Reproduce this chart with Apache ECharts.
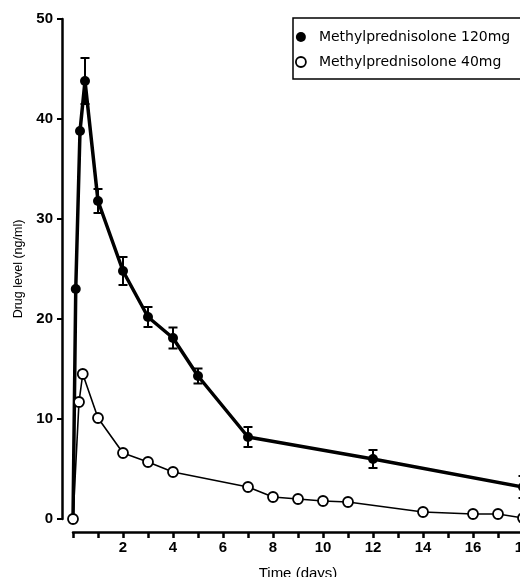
<!DOCTYPE html>
<html>
<head>
<meta charset="utf-8">
<script src="https://cdn.jsdelivr.net/npm/echarts@6/dist/echarts.min.js"></script>
<style>
  html, body { margin: 0; padding: 0; background: #fff; }
  #chart { width: 520px; height: 577px; }
</style>
</head>
<body>
<div id="chart"></div>
<script>
// 时间 (days) 与药物浓度 (ng/ml)
const time120 = [0, 0.11, 0.28, 0.48, 1, 2, 3, 4, 5, 7, 12, 18];
const level120 = [0, 23.0, 38.8, 43.8, 31.8, 24.8, 20.2, 18.1, 14.3, 8.2, 6.0, 3.2];
const sem120 = [0, 0, 0, 2.3, 1.2, 1.4, 1.0, 1.05, 0.75, 1.0, 0.9, 1.1];

const time40 = [0, 0.24, 0.39, 1, 2, 3, 4, 7, 8, 9, 10, 11, 14, 16, 17, 18];
const level40 = [0, 11.7, 14.5, 10.1, 6.6, 5.7, 4.7, 3.2, 2.2, 2.0, 1.8, 1.7, 0.7, 0.5, 0.5, 0.1];

const yTicks = [0, 10, 20, 30, 40, 50];
const xLabelled = [2, 4, 6, 8, 10, 12, 14, 16, 18];

const name120 = "Methylprednisolone 120mg";
const name40 = "Methylprednisolone 40mg";

const font = "Liberation Sans";

let errData = [];
time120.forEach((t, k) => {
  if (sem120[k] > 0) errData.push([t, level120[k] - sem120[k], level120[k] + sem120[k]]);
});

let myChart = echarts.init(document.getElementById("chart"));
let option = {
  backgroundColor: "#fff",
  animation: false,
  grid: {  // 数据区, 坐标轴用 offset 挪开
    left: 73,
    top: 19,
    width: 450,
    height: 500,
    outerBoundsMode: "none",
    containLabel: false,
  },
  legend: {
    orient: "vertical",
    left: 293,
    top: 18,
    padding: [11, 30, 9, 2],
    itemGap: 9,
    itemWidth: 16,
    itemHeight: 10,
    borderColor: "#000",
    borderWidth: 1.5,
    textStyle: {
      fontFamily: "DejaVu Sans",
      fontSize: 14,
      color: "#000",
      lineHeight: 16,
      padding: [0, 0, 0, 5],
    },
    data: [
      { name: name120, icon: "circle", itemStyle: { color: "#000" } },
      { name: name40, icon: "circle", itemStyle: { color: "#fff", borderColor: "#000", borderWidth: 1.8 } },
    ],
  },
  xAxis: {
    type: "value",
    min: 0,
    max: 18,
    interval: 1,
    offset: 13,
    name: "Time (days)",
    nameLocation: "middle",
    nameGap: 34,
    nameTextStyle: { fontFamily: font, fontSize: 15, color: "#000" },
    axisLine: { show: true, onZero: false, lineStyle: { color: "#000", width: 2.5 } },
    axisTick: { show: true, inside: false, length: 6, lineStyle: { color: "#000", width: 2.5 } },
    axisLabel: {
      fontFamily: font,
      fontWeight: "bold",
      fontSize: 15,
      color: "#000",
      margin: 8,
      formatter: (v) => (xLabelled.indexOf(v) >= 0 ? String(v) : ""),
    },
    splitLine: { show: false },
  },
  yAxis: {
    type: "value",
    min: 0,
    max: 50,
    interval: 10,
    offset: 11,
    name: "Drug level (ng/ml)",
    nameLocation: "middle",
    nameGap: 35,
    nameTextStyle: { fontFamily: font, fontSize: 12.5, color: "#000" },
    axisLine: { show: true, onZero: false, lineStyle: { color: "#000", width: 2.5 } },
    axisTick: { show: true, inside: false, length: 5, lineStyle: { color: "#000", width: 2 } },
    axisLabel: {
      fontFamily: font,
      fontWeight: "bold",
      fontSize: 15,
      color: "#000",
      margin: 9,
      formatter: (v) => (yTicks.indexOf(v) >= 0 ? String(v) : ""),
    },
    splitLine: { show: false },
  },
  series: [
    { // 120mg 实心
      type: "line",
      name: name120,
      data: time120.map((t, k) => [t, level120[k]]),
      symbol: (v, p) => (p.dataIndex === 0 ? "none" : "circle"),
      symbolSize: 10,
      showAllSymbol: true,
      lineStyle: { color: "#000", width: 3.5 },
      itemStyle: { color: "#000" },
      z: 3,
    },
    { // 40mg 空心
      type: "line",
      name: name40,
      data: time40.map((t, k) => [t, level40[k]]),
      symbol: "circle",
      symbolSize: 10,
      showAllSymbol: true,
      lineStyle: { color: "#000", width: 1.6 },
      itemStyle: { color: "#fff", borderColor: "#000", borderWidth: 1.8 },
      z: 4,
    },
    { // 误差线
      type: "custom",
      name: "sem",
      data: errData,
      z: 5,
      renderItem: (params, api) => {
        let x = api.value(0);
        let lo = api.coord([x, api.value(1)]);
        let hi = api.coord([x, api.value(2)]);
        let w = 4.5;
        let st = { stroke: "#000", lineWidth: 2 };
        return {
          type: "group",
          children: [
            { type: "line", shape: { x1: lo[0], y1: lo[1], x2: hi[0], y2: hi[1] }, style: st },
            { type: "line", shape: { x1: lo[0] - w, y1: lo[1], x2: lo[0] + w, y2: lo[1] }, style: st },
            { type: "line", shape: { x1: hi[0] - w, y1: hi[1], x2: hi[0] + w, y2: hi[1] }, style: st },
          ],
        };
      },
    },
  ],
};
myChart.setOption(option);
</script>
</body>
</html>
